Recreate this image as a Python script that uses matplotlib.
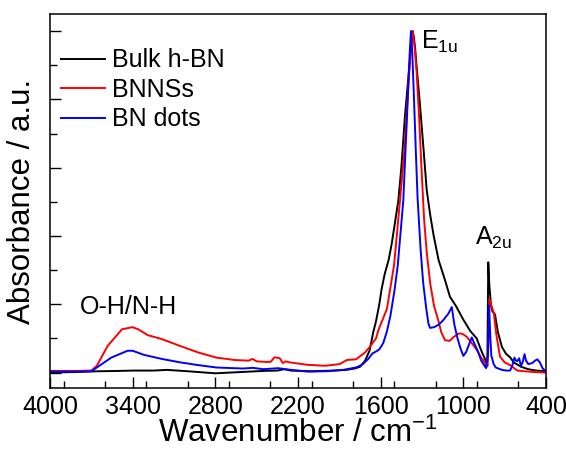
import matplotlib
matplotlib.use("Agg")
import matplotlib.pyplot as plt
from matplotlib.ticker import MultipleLocator

plt.rcParams['font.family'] = ['Liberation Sans', 'DejaVu Sans']
plt.rcParams['mathtext.default'] = 'regular'

# ---- data ----
bulk_x = [4000, 3800, 3650, 3500, 3400, 3250, 3150, 3000, 2800, 2600, 2450, 2350, 2300, 2250,
          2100, 1950, 1850, 1790, 1750, 1713, 1680, 1653, 1634, 1610, 1593, 1570, 1542, 1520,
          1472, 1450, 1424, 1400, 1385, 1375, 1368, 1360, 1350, 1340, 1318, 1290, 1266, 1240,
          1215, 1180, 1134, 1097, 1055, 1000, 950, 903, 880, 860, 845, 835, 826, 819, 812,
          800, 790, 770, 750, 720, 690, 661, 634, 580, 529, 470, 400]
bulk_y = [0.000, 0.002, 0.004, 0.005, 0.006, 0.006, 0.008, 0.004, -0.002, 0.002, 0.005, 0.006,
          0.010, 0.006, 0.004, 0.006, 0.008, 0.012, 0.017, 0.035, 0.065, 0.120, 0.150, 0.200,
          0.245, 0.290, 0.330, 0.377, 0.503, 0.600, 0.750, 0.860, 0.930, 0.980, 1.000, 0.985,
          0.950, 0.900, 0.800, 0.660, 0.535, 0.460, 0.400, 0.330, 0.272, 0.222, 0.196, 0.155,
          0.122, 0.100, 0.075, 0.055, 0.042, 0.030, 0.020, 0.323, 0.260, 0.200, 0.180, 0.170,
          0.120, 0.075, 0.055, 0.045, 0.030, 0.017, 0.010, 0.006, 0.004]

bnns_x = [4000, 3800, 3700, 3660, 3582, 3477, 3402, 3360, 3292, 3187, 3055, 2924, 2792, 2660,
          2560, 2529, 2500, 2420, 2397, 2371, 2332, 2310, 2290, 2260, 2134, 2003, 1897, 1845,
          1779, 1713, 1680, 1634, 1617, 1555, 1503, 1460, 1430, 1397, 1380, 1368, 1355, 1339,
          1320, 1305, 1285, 1266, 1240, 1213, 1180, 1160, 1133, 1100, 1068, 1040, 1024, 1000,
          976, 950, 923, 900, 871, 845, 826, 818, 811, 800, 779, 760, 734, 700, 661, 608, 500, 400]
bnns_y = [0.005, 0.005, 0.006, 0.020, 0.078, 0.127, 0.133, 0.127, 0.110, 0.098, 0.078, 0.059,
          0.044, 0.037, 0.035, 0.040, 0.033, 0.031, 0.032, 0.045, 0.042, 0.028, 0.033, 0.030,
          0.023, 0.020, 0.025, 0.037, 0.039, 0.059, 0.075, 0.100, 0.124, 0.186, 0.314, 0.503,
          0.640, 0.853, 0.950, 1.000, 0.960, 0.880, 0.740, 0.608, 0.450, 0.353, 0.260, 0.196,
          0.150, 0.118, 0.095, 0.093, 0.105, 0.113, 0.115, 0.112, 0.105, 0.092, 0.078, 0.065,
          0.044, 0.030, 0.018, 0.080, 0.215, 0.200, 0.175, 0.110, 0.047, 0.030, 0.022, 0.006,
          0.002, 0.000]

dots_x = [4000, 3800, 3700, 3660, 3555, 3437, 3400, 3318, 3187, 3055, 2924, 2792, 2600, 2529,
          2450, 2345, 2250, 2134, 1990, 1871, 1780, 1739, 1690, 1660, 1629, 1610, 1582, 1555,
          1529, 1500, 1476, 1436, 1403, 1390, 1380, 1370, 1358, 1345, 1332, 1310, 1292, 1270,
          1253, 1242, 1213, 1180, 1147, 1110, 1084, 1065, 1042, 1020, 1000, 980, 963, 939, 920,
          897, 870, 850, 835, 822, 813, 805, 797, 780, 765, 720, 687, 661, 645, 629, 618, 608,
          595, 582, 570, 556, 545, 529, 500, 480, 463, 445, 424, 400]
dots_y = [0.003, 0.003, 0.004, 0.015, 0.044, 0.064, 0.064, 0.052, 0.040, 0.030, 0.022, 0.015,
          0.012, 0.014, 0.010, 0.013, 0.008, 0.003, 0.004, 0.008, 0.015, 0.022, 0.040, 0.056,
          0.063, 0.068, 0.086, 0.120, 0.167, 0.240, 0.314, 0.503, 0.804, 0.930, 1.000, 0.930,
          0.800, 0.650, 0.510, 0.360, 0.265, 0.190, 0.143, 0.131, 0.133, 0.140, 0.153, 0.172,
          0.192, 0.140, 0.100, 0.070, 0.049, 0.060, 0.078, 0.103, 0.085, 0.065, 0.035, 0.022,
          0.013, 0.050, 0.197, 0.110, 0.050, 0.025, 0.015, 0.008, 0.006, 0.006, 0.020, 0.044,
          0.035, 0.034, 0.042, 0.020, 0.030, 0.054, 0.035, 0.025, 0.028, 0.035, 0.039, 0.030,
          0.012, 0.004]

series_labels = ['Bulk h-BN', 'BNNSs', 'BN dots']
series_colors = ['#000000', '#ff0000', '#0000ff']

x_ticks = [4000, 3400, 2800, 2200, 1600, 1000, 400]

# ---- figure ----
fig = plt.figure(figsize=(5.66, 4.59), dpi=100)
ax = fig.add_axes([0.0883, 0.1547, 0.8764, 0.8148])

for xs, ys, lab, col in zip([bulk_x, bnns_x, dots_x], [bulk_y, bnns_y, dots_y],
                            series_labels, series_colors):
    ax.plot(xs, ys, color=col, lw=1.4, label=lab)

ax.set_xlim(4000, 400)
ax.set_ylim(-0.045, 1.05)
ax.set_xticks(x_ticks)
ax.set_xticklabels([str(t) for t in x_ticks])
ax.xaxis.set_minor_locator(MultipleLocator(300))
ax.yaxis.set_major_locator(MultipleLocator(0.2))
ax.yaxis.set_minor_locator(MultipleLocator(0.1))
ax.set_yticklabels([])
ax.tick_params(axis='both', which='major', direction='in', length=8, width=1.0,
               labelsize=18, top=False, right=False)
ax.tick_params(axis='both', which='minor', direction='in', length=5, width=1.0,
               top=False, right=False)
ax.tick_params(axis='x', pad=5)
for s in ax.spines.values():
    s.set_linewidth(1.1)

ax.set_xlabel('Wavenumber / cm$^{-1}$', fontsize=22.5, labelpad=-1)
ax.set_ylabel('Absorbance / a.u.', fontsize=22.5, labelpad=6)

ax.text(1310, 0.949, r'E$_{1u}$', fontsize=18, ha='left', va='baseline')
ax.text(915, 0.3745, r'A$_{2u}$', fontsize=18, ha='left', va='baseline')
ax.text(3784, 0.1716, 'O-H/N-H', fontsize=18, ha='left', va='baseline')

ax.legend(loc='upper left', bbox_to_anchor=(0.022, 0.908), frameon=False, fontsize=18,
          handlelength=1.75, handletextpad=0.3, labelspacing=0.22, borderpad=0,
          borderaxespad=0)

fig.savefig('out.png', dpi=100)
